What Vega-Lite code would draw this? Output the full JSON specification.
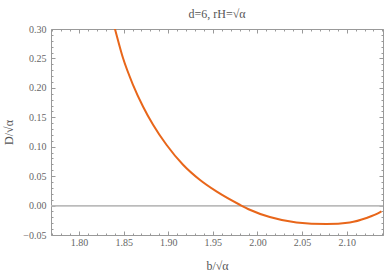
{
  "$schema": "https://vega.github.io/schema/vega-lite/v6.json",
  "width": 332,
  "height": 206,
  "autosize": {"type": "none"},
  "padding": {"left": 51, "top": 29, "right": 3, "bottom": 38},
  "background": "white",
  "config": {"view": {"stroke": null}, "font": "Liberation Serif"},
  "title": {"text": "d=6, rH=√α", "font": "Liberation Serif", "fontSize": 12, "fontWeight": "normal", "color": "#555555", "offset": 2},
  "data": {"values": [
    {"b": 1.8385, "D": 0.31},
    {"b": 1.8400, "D": 0.3016},
    {"b": 1.8493, "D": 0.2506},
    {"b": 1.8605, "D": 0.2052},
    {"b": 1.8717, "D": 0.1684},
    {"b": 1.8830, "D": 0.1373},
    {"b": 1.8980, "D": 0.1033},
    {"b": 1.9166, "D": 0.0693},
    {"b": 1.9353, "D": 0.0438},
    {"b": 1.9540, "D": 0.0240},
    {"b": 1.9802, "D": 0.0014},
    {"b": 1.9914, "D": -0.0071},
    {"b": 2.0138, "D": -0.0195},
    {"b": 2.0437, "D": -0.0287},
    {"b": 2.0773, "D": -0.0314},
    {"b": 2.1035, "D": -0.0287},
    {"b": 2.1222, "D": -0.0212},
    {"b": 2.1371, "D": -0.0117},
    {"b": 2.1390, "D": -0.0100}
  ]},
  "layer": [
    {
      "mark": {"type": "rule", "color": "#bbbbbb", "strokeWidth": 1},
      "encoding": {
        "y": {"datum": 0, "type": "quantitative", "scale": {"domain": [-0.05, 0.30], "nice": false, "zero": false}, "axis": null}
      }
    },
    {
      "mark": {"type": "line", "color": "#E8661A", "strokeWidth": 2, "clip": true, "interpolate": "monotone"},
      "encoding": {
        "x": {"field": "b", "type": "quantitative", "scale": {"domain": [1.7686, 2.1407], "nice": false, "zero": false},
          "axis": {"orient": "bottom", "title": "b/√α",
            "values": [1.77,1.78,1.79,1.80,1.81,1.82,1.83,1.84,1.85,1.86,1.87,1.88,1.89,1.90,1.91,1.92,1.93,1.94,1.95,1.96,1.97,1.98,1.99,2.00,2.01,2.02,2.03,2.04,2.05,2.06,2.07,2.08,2.09,2.10,2.11,2.12,2.13,2.14],
            "labelExpr": "abs(datum.value*20 - round(datum.value*20)) < 0.001 ? format(datum.value, '.2f') : ''",
            "tickSize": {"condition": {"test": "abs(datum.value*20 - round(datum.value*20)) < 0.001", "value": -4}, "value": -2},
            "tickColor": "#999999", "domainColor": "#999999", "grid": false,
            "labelFont": "Liberation Serif", "labelFontSize": 10, "labelColor": "#666666", "labelOverlap": false, "labelFlush": false, "labelPadding": 6,
            "titleFont": "Liberation Serif", "titleFontSize": 12, "titleFontWeight": "normal", "titleColor": "#555555", "titlePadding": 11}},
        "y": {"field": "D", "type": "quantitative", "scale": {"domain": [-0.05, 0.30], "nice": false, "zero": false},
          "axis": {"orient": "left", "title": "D/√α",
            "values": [-0.05,-0.04,-0.03,-0.02,-0.01,0,0.01,0.02,0.03,0.04,0.05,0.06,0.07,0.08,0.09,0.10,0.11,0.12,0.13,0.14,0.15,0.16,0.17,0.18,0.19,0.20,0.21,0.22,0.23,0.24,0.25,0.26,0.27,0.28,0.29,0.30],
            "labelExpr": "abs(datum.value*20 - round(datum.value*20)) < 0.001 ? format(datum.value, '.2f') : ''",
            "tickSize": {"condition": {"test": "abs(datum.value*20 - round(datum.value*20)) < 0.001", "value": -4}, "value": -2},
            "tickColor": "#999999", "domainColor": "#999999", "grid": false,
            "labelFont": "Liberation Serif", "labelFontSize": 10, "labelColor": "#666666", "labelOverlap": false, "labelFlush": false, "labelPadding": 9,
            "titleFont": "Liberation Serif", "titleFontSize": 12, "titleFontWeight": "normal", "titleColor": "#555555", "titlePadding": 7}}
      }
    },
    {
      "mark": {"type": "line", "strokeOpacity": 0},
      "encoding": {
        "x": {"field": "b", "type": "quantitative", "scale": {"domain": [1.7686, 2.1407], "nice": false, "zero": false},
          "axis": {"orient": "top", "title": null, "labels": false,
            "values": [1.77,1.78,1.79,1.80,1.81,1.82,1.83,1.84,1.85,1.86,1.87,1.88,1.89,1.90,1.91,1.92,1.93,1.94,1.95,1.96,1.97,1.98,1.99,2.00,2.01,2.02,2.03,2.04,2.05,2.06,2.07,2.08,2.09,2.10,2.11,2.12,2.13,2.14],
            "tickSize": {"condition": {"test": "abs(datum.value*20 - round(datum.value*20)) < 0.001", "value": -4}, "value": -2},
            "tickColor": "#999999", "domainColor": "#999999", "grid": false}},
        "y": {"field": "D", "type": "quantitative", "scale": {"domain": [-0.05, 0.30], "nice": false, "zero": false},
          "axis": {"orient": "right", "title": null, "labels": false,
            "values": [-0.05,-0.04,-0.03,-0.02,-0.01,0,0.01,0.02,0.03,0.04,0.05,0.06,0.07,0.08,0.09,0.10,0.11,0.12,0.13,0.14,0.15,0.16,0.17,0.18,0.19,0.20,0.21,0.22,0.23,0.24,0.25,0.26,0.27,0.28,0.29,0.30],
            "tickSize": {"condition": {"test": "abs(datum.value*20 - round(datum.value*20)) < 0.001", "value": -4}, "value": -2},
            "tickColor": "#999999", "domainColor": "#999999", "grid": false}}
      }
    }
  ],
  "resolve": {"axis": {"x": "independent", "y": "independent"}}
}
